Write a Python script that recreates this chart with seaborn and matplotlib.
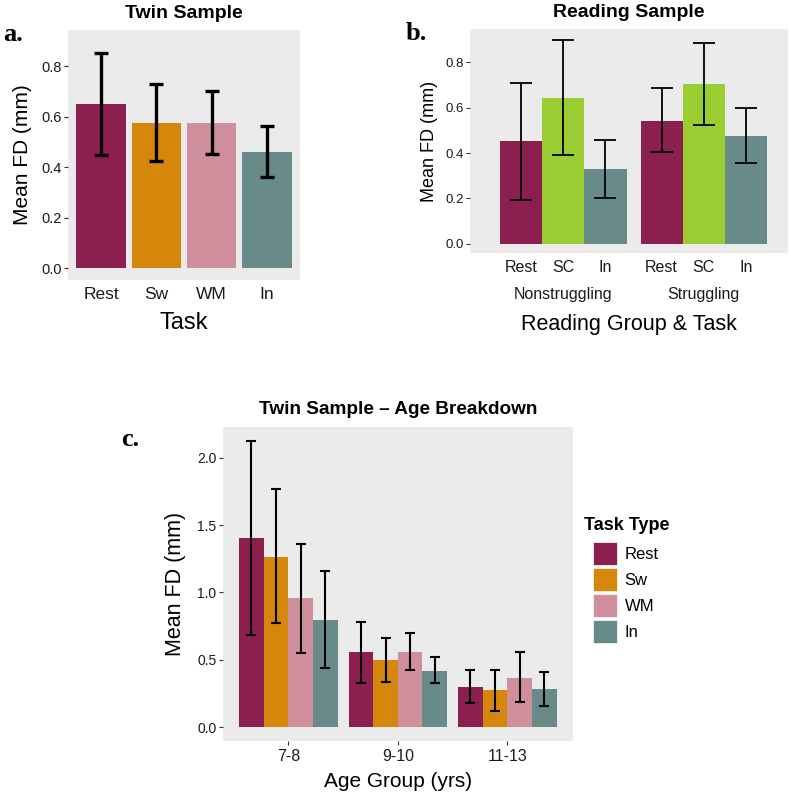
import matplotlib
matplotlib.use('Agg')
import matplotlib.pyplot as plt
from matplotlib.patches import Patch
import seaborn as sns
import pandas as pd

# ---------------- data ----------------
# Panel a: Twin Sample
a_tasks = ['Rest', 'Sw', 'WM', 'In']
a_mean = [0.650, 0.576, 0.576, 0.459]
a_low = [0.448, 0.423, 0.453, 0.359]
a_high = [0.853, 0.729, 0.701, 0.562]

# Panel b: Reading Sample
b_groups = ['Nonstruggling', 'Struggling']
b_tasks = ['Rest', 'SC', 'In']
b_mean_non = [0.451, 0.644, 0.329]
b_low_non = [0.193, 0.393, 0.203]
b_high_non = [0.710, 0.899, 0.457]
b_mean_str = [0.543, 0.704, 0.475]
b_low_str = [0.406, 0.524, 0.354]
b_high_str = [0.685, 0.885, 0.599]

# Panel c: Twin Sample - Age Breakdown
c_ages = ['7-8', '9-10', '11-13']
c_tasks = ['Rest', 'Sw', 'WM', 'In']
c_mean = {'Rest': [1.401, 0.554, 0.294],
          'Sw':   [1.265, 0.495, 0.272],
          'WM':   [0.958, 0.554, 0.366],
          'In':   [0.797, 0.413, 0.280]}
c_low = {'Rest': [0.683, 0.329, 0.175],
         'Sw':   [0.772, 0.337, 0.116],
         'WM':   [0.550, 0.423, 0.186],
         'In':   [0.438, 0.324, 0.153]}
c_high = {'Rest': [2.126, 0.777, 0.423],
          'Sw':   [1.767, 0.658, 0.423],
          'WM':   [1.361, 0.698, 0.557],
          'In':   [1.158, 0.517, 0.408]}

colors = {'Rest': '#8B1F4F', 'Sw': '#D4870A', 'WM': '#CF8F9C',
          'In': '#688A88', 'SC': '#9ACD32'}

# ---------------- style ----------------
plt.rcParams['font.family'] = ['Liberation Sans', 'DejaVu Sans']
PANEL_BG = '#EBEBEB'
TXT = '#1a1a1a'

fig = plt.figure(figsize=(7.91, 7.98), dpi=100)


def style_ax(ax):
    ax.set_facecolor(PANEL_BG)
    for s in ax.spines.values():
        s.set_visible(False)
    ax.grid(False)
    ax.tick_params(axis='y', length=3, width=0.8, color='#333333',
                   labelcolor=TXT, pad=1.5)


def add_err(ax, mean_by_hue, low_by_hue, high_by_hue, hue_levels, lw, cap):
    for cont, lev in zip(ax.containers, hue_levels):
        xs = [p.get_x() + p.get_width() / 2 for p in cont.patches]
        m = mean_by_hue[lev]
        lo = [mm - l for mm, l in zip(m, low_by_hue[lev])]
        hi = [h - mm for mm, h in zip(m, high_by_hue[lev])]
        ax.errorbar(xs, m, yerr=[lo, hi], fmt='none', ecolor='black',
                    elinewidth=lw, capsize=cap, capthick=lw, zorder=5)


# ---------------- panel a ----------------
axa = fig.add_axes([68 / 791, 1 - 280 / 798, 232 / 791, 250 / 798])
style_ax(axa)
dfa = pd.DataFrame({'Task': a_tasks, 'FD': a_mean})
sns.barplot(data=dfa, x='Task', y='FD', hue='Task', order=a_tasks,
            hue_order=a_tasks, palette=colors, width=0.9, dodge=False,
            saturation=1, linewidth=0, legend=False, errorbar=None, ax=axa)
add_err(axa, {t: [m] for t, m in zip(a_tasks, a_mean)},
        {t: [l] for t, l in zip(a_tasks, a_low)},
        {t: [h] for t, h in zip(a_tasks, a_high)}, a_tasks, lw=2.4, cap=5)
axa.set_xlim(-0.6, 3.6)
axa.set_ylim(-0.0475, 0.943)
axa.set_yticks([0.0, 0.2, 0.4, 0.6, 0.8])
axa.set_yticklabels(['0.0', '0.2', '0.4', '0.6', '0.8'], fontsize=10.5)
axa.tick_params(axis='x', length=0, labelsize=12.5, labelcolor=TXT, pad=5)
axa.set_xlabel('Task', fontsize=17, color='black', labelpad=7)
axa.set_ylabel('Mean FD (mm)', fontsize=15, color='black', labelpad=7)
axa.set_title('Twin Sample', fontsize=14, fontweight='bold', pad=9)

# ---------------- panel b ----------------
axb = fig.add_axes([470 / 791, 1 - 253 / 798, 318 / 791, 224 / 798])
style_ax(axb)
rows = []
for g, ms in zip(b_groups, [b_mean_non, b_mean_str]):
    for t, m in zip(b_tasks, ms):
        rows.append({'Group': g, 'Task': t, 'FD': m})
dfb = pd.DataFrame(rows)
sns.barplot(data=dfb, x='Group', y='FD', hue='Task', order=b_groups,
            hue_order=b_tasks, palette=colors, width=0.9, saturation=1,
            linewidth=0, legend=False, errorbar=None, ax=axb)
b_mean = {t: [b_mean_non[i], b_mean_str[i]] for i, t in enumerate(b_tasks)}
b_low = {t: [b_low_non[i], b_low_str[i]] for i, t in enumerate(b_tasks)}
b_high = {t: [b_high_non[i], b_high_str[i]] for i, t in enumerate(b_tasks)}
add_err(axb, b_mean, b_low, b_high, b_tasks, lw=1.3, cap=8)
ticks, labels = [], []
for cont, t in zip(axb.containers, b_tasks):
    for p in cont.patches:
        ticks.append(p.get_x() + p.get_width() / 2)
        labels.append(t)
axb.set_xticks(ticks)
axb.set_xticklabels(labels)
axb.tick_params(axis='x', length=0, labelsize=11.5, labelcolor=TXT, pad=5)
for i, g in enumerate(b_groups):
    axb.annotate(g, xy=(i, 0), xycoords=('data', 'axes fraction'),
                 xytext=(0, -42), textcoords='offset pixels',
                 ha='center', va='center', fontsize=11.5, color=TXT)
axb.set_xlim(-0.665, 1.6)
axb.set_ylim(-0.041, 0.947)
axb.set_yticks([0.0, 0.2, 0.4, 0.6, 0.8])
axb.set_yticklabels(['0.0', '0.2', '0.4', '0.6', '0.8'], fontsize=9.5)
axb.set_xlabel('Reading Group & Task', fontsize=15.5, color='black',
               labelpad=28)
axb.set_ylabel('Mean FD (mm)', fontsize=13, color='black', labelpad=5)
axb.set_title('Reading Sample', fontsize=14, fontweight='bold', pad=9)

# ---------------- panel c ----------------
axc = fig.add_axes([222.7 / 791, 1 - 740.5 / 798, 350.3 / 791, 313.8 / 798])
style_ax(axc)
rows = []
for t in c_tasks:
    for a, m in zip(c_ages, c_mean[t]):
        rows.append({'Age': a, 'Task': t, 'FD': m})
dfc = pd.DataFrame(rows)
sns.barplot(data=dfc, x='Age', y='FD', hue='Task', order=c_ages,
            hue_order=c_tasks, palette=colors, width=0.9, saturation=1,
            linewidth=0, legend=False, errorbar=None, ax=axc)
add_err(axc, c_mean, c_low, c_high, c_tasks, lw=1.5, cap=3.5)
axc.set_xlim(-0.6, 2.6)
axc.set_ylim(-0.1, 2.23)
axc.set_yticks([0.0, 0.5, 1.0, 1.5, 2.0])
axc.set_yticklabels(['0.0', '0.5', '1.0', '1.5', '2.0'], fontsize=10)
axc.tick_params(axis='x', length=3, width=0.8, color='#333333',
                labelsize=11.5, labelcolor=TXT, pad=3)
axc.set_xlabel('Age Group (yrs)', fontsize=15, color='black', labelpad=6)
axc.set_ylabel('Mean FD (mm)', fontsize=15.5, color='black', labelpad=8)
axc.set_title('Twin Sample \u2013 Age Breakdown', fontsize=13.7,
              fontweight='bold', pad=9)

handles = [Patch(facecolor=colors[t], edgecolor='white', linewidth=0.5,
                 label=t) for t in c_tasks]
fig.legend(handles=handles, loc='upper left',
           bbox_to_anchor=(593 / 791, 1 - 542 / 798),
           frameon=False, fontsize=12, borderpad=0, borderaxespad=0,
           handlelength=1.45, handleheight=1.75, handletextpad=0.45,
           labelspacing=0.18)
fig.text(584 / 791, 1 - 526 / 798, 'Task Type', fontsize=13,
         fontweight='bold', ha='left', va='center')

# panel letters
serif = ['Liberation Serif', 'DejaVu Serif']
fig.text(3 / 791, 1 - 41 / 798, 'a.', family=serif, fontsize=19,
         fontweight='bold', va='baseline')
fig.text(406 / 791, 1 - 40 / 798, 'b.', family=serif, fontsize=19,
         fontweight='bold', va='baseline')
fig.text(121 / 791, 1 - 446 / 798, 'c.', family=serif, fontsize=19,
         fontweight='bold', va='baseline')

fig.savefig('out.png', dpi=100)
